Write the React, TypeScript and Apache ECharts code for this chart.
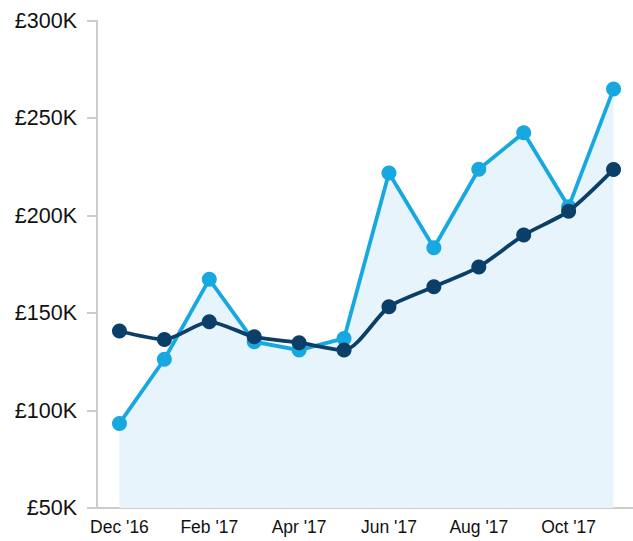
import React, { useEffect, useRef } from "react";
import * as echarts from "echarts";

const months = ["Dec '16", "Jan '17", "Feb '17", "Mar '17", "Apr '17", "May '17", "Jun '17", "Jul '17", "Aug '17", "Sep '17", "Oct '17", "Nov '17"];
const lightValues = [93400, 126300, 167300, 135300, 131000, 137000, 221900, 183500, 223800, 242500, 204500, 264900];
const darkValues = [140800, 136500, 145500, 137800, 134800, 131000, 153200, 163500, 173700, 190000, 202300, 223700];
const yTicks = [50000, 100000, 150000, 200000, 250000, 300000];

const FONT = "'Liberation Sans', Arial, Helvetica, sans-serif";

export default function App() {
  const ref = useRef<HTMLDivElement>(null);
  useEffect(() => {
    if (!ref.current) return;
    const chart = echarts.init(ref.current, undefined, { renderer: "svg" });
    chart.setOption({
      animation: false,
      backgroundColor: "#ffffff",
      grid: { left: 97, width: 539, top: 20.7, height: 487.3, containLabel: false, outerBoundsMode: "none" },
      xAxis: {
        type: "category",
        data: months,
        boundaryGap: true,
        axisLine: { lineStyle: { color: "#cccccc", width: 2 } },
        axisTick: { alignWithLabel: true, interval: 1, length: 10, lineStyle: { color: "#cccccc", width: 2 } },
        axisLabel: { interval: 1, margin: 10, color: "#111111", fontSize: 17.5, fontFamily: FONT },
        splitLine: { show: false },
      },
      yAxis: {
        type: "value",
        min: yTicks[0],
        max: yTicks[yTicks.length - 1],
        interval: 50000,
        axisLine: { show: true, lineStyle: { color: "#cccccc", width: 2 } },
        axisTick: { show: true, inside: false, length: 10, lineStyle: { color: "#cccccc", width: 2 } },
        axisLabel: {
          margin: 20,
          color: "#111111",
          fontSize: 21.5,
          fontFamily: FONT,
          padding: [0, 0, 5, 0],
          formatter: (v: number) => "£" + v / 1000 + "K",
        },
        splitLine: { show: false },
      },
      series: [
        {
          name: "Light",
          type: "line",
          data: lightValues,
          symbol: "circle",
          symbolSize: 15,
          lineStyle: { color: "#17a8e0", width: 3.8 },
          itemStyle: { color: "#17a8e0" },
          areaStyle: { color: "#e7f4fb", opacity: 1 },
          z: 2,
        },
        {
          name: "Dark",
          type: "line",
          data: darkValues,
          smooth: 0.25,
          symbol: "circle",
          symbolSize: 15,
          lineStyle: { color: "#0b3f68", width: 3.8 },
          itemStyle: { color: "#0b3f68" },
          z: 3,
        },
      ],
    });
    return () => chart.dispose();
  }, []);
  return <div ref={ref} style={{ position: "fixed", left: 0, top: 0, width: 633, height: 541 }} />;
}
